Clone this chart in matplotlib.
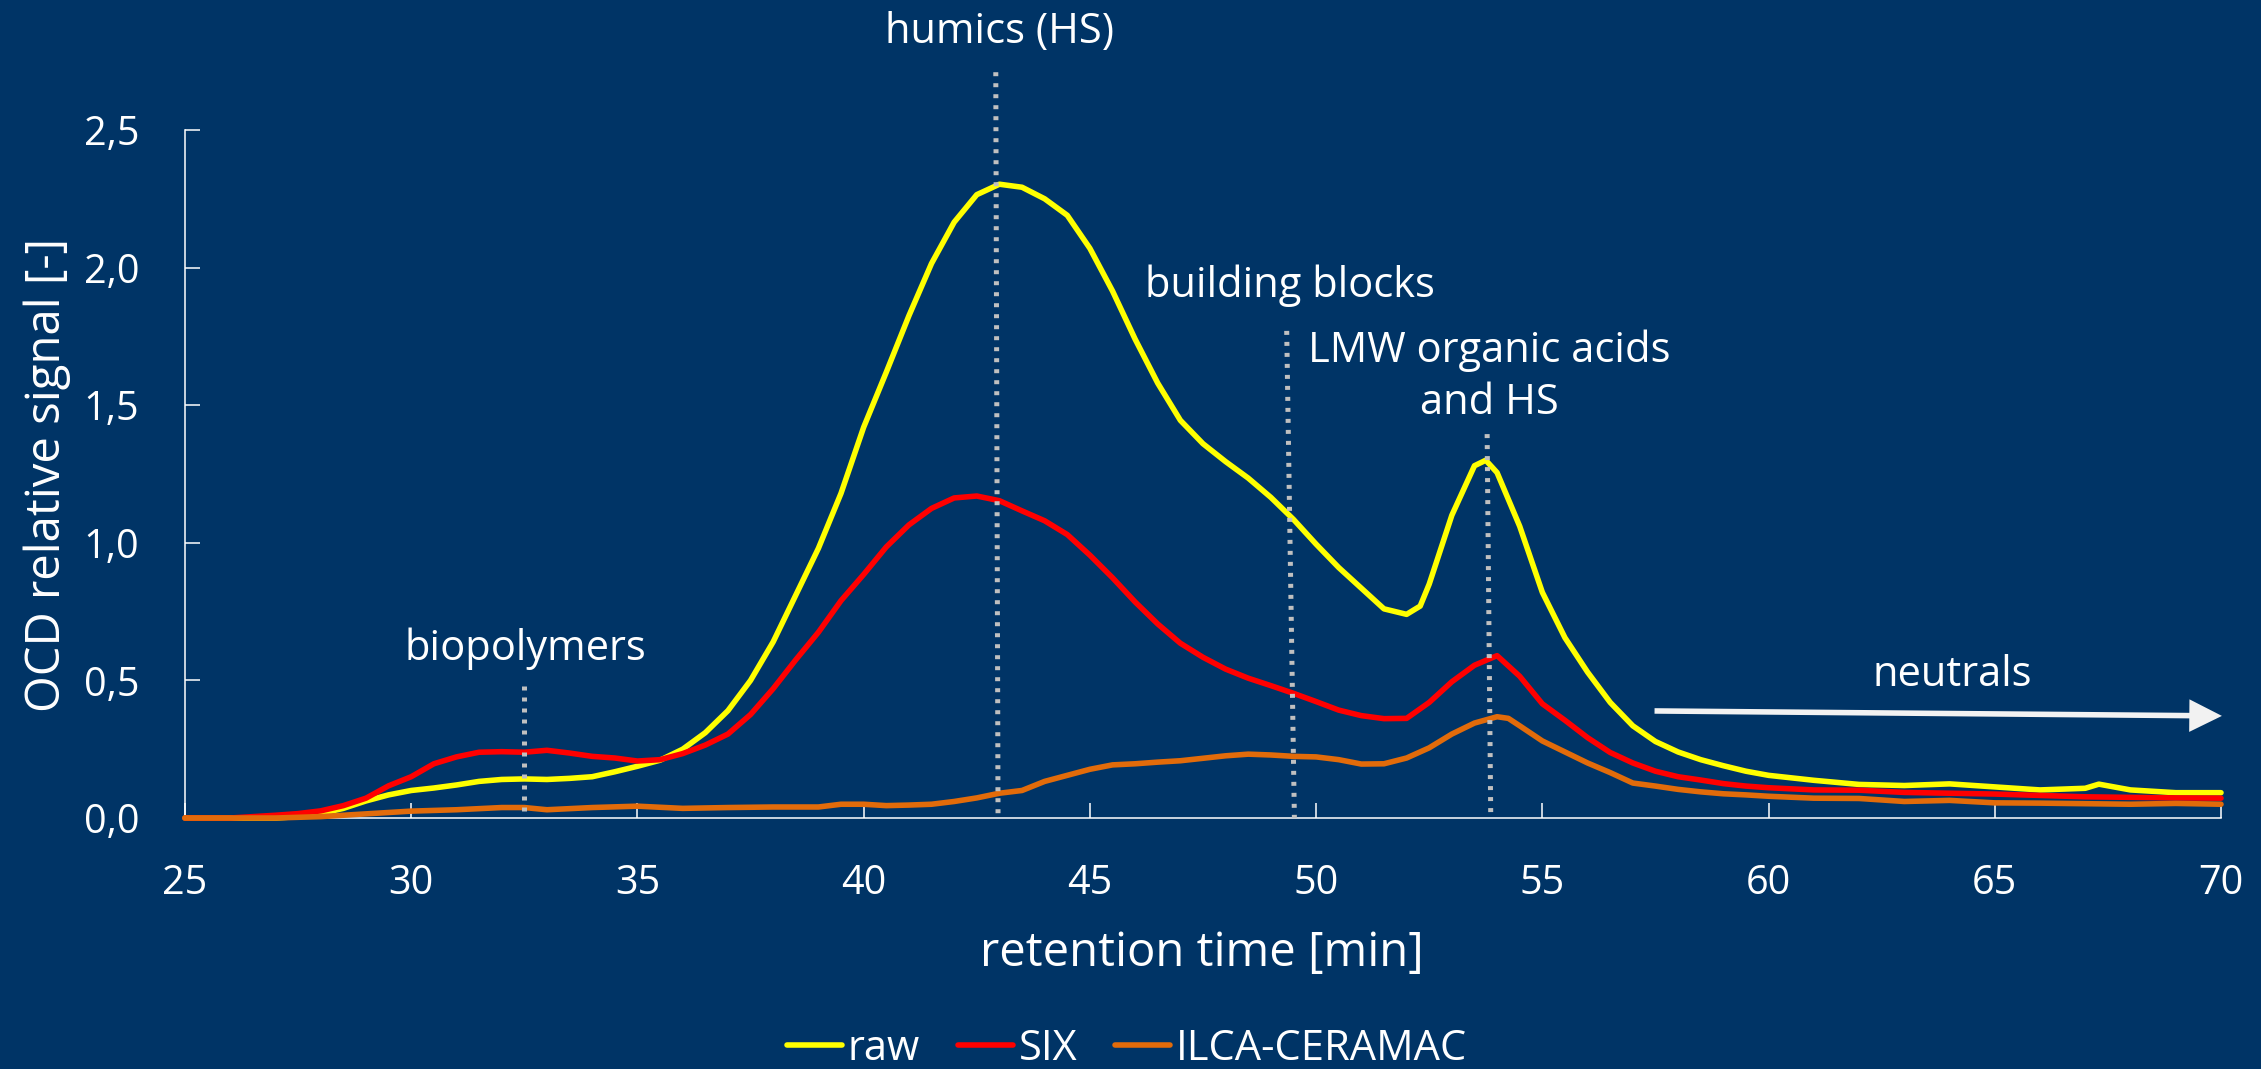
import matplotlib
matplotlib.use("Agg")
import matplotlib.pyplot as plt
from matplotlib.ticker import FuncFormatter, MultipleLocator
from matplotlib.patches import FancyArrowPatch, ArrowStyle

# retention time [min] and OCD relative signals
time_raw = [25, 26, 27, 27.5, 28, 28.5, 29, 29.5, 30, 30.5, 31, 31.5, 32, 32.5, 33, 33.5,
            34, 34.5, 35, 35.5, 36, 36.5, 37, 37.5, 38, 38.5, 39, 39.5, 40, 40.5, 41,
            41.5, 42, 42.5, 43, 43.5, 44, 44.5, 45, 45.5, 46, 46.5, 47, 47.5, 48, 48.5,
            49, 49.5, 50, 50.5, 51, 51.5, 52, 52.3, 52.5, 53, 53.5, 53.75, 54, 54.5, 55,
            55.5, 56, 56.5, 57, 57.5, 58, 58.5, 59, 59.5, 60, 61, 62, 63, 64, 65, 66, 67,
            67.3, 68, 69, 70]
signal_raw = [0.0, 0.0, 0.0, 0.005, 0.016, 0.035, 0.062, 0.084, 0.100, 0.109, 0.120, 0.133,
              0.140, 0.142, 0.140, 0.144, 0.150, 0.168, 0.188, 0.210, 0.250, 0.310, 0.390,
              0.500, 0.640, 0.810, 0.980, 1.180, 1.420, 1.620, 1.825, 2.015, 2.165, 2.265,
              2.303, 2.292, 2.250, 2.190, 2.070, 1.915, 1.740, 1.580, 1.445, 1.360, 1.295,
              1.235, 1.165, 1.085, 0.995, 0.910, 0.835, 0.760, 0.740, 0.770, 0.850, 1.100,
              1.280, 1.300, 1.255, 1.060, 0.820, 0.655, 0.530, 0.420, 0.335, 0.278, 0.240,
              0.212, 0.190, 0.170, 0.155, 0.137, 0.122, 0.118, 0.124, 0.113, 0.102, 0.108,
              0.123, 0.102, 0.092, 0.092]

time_six = [25, 26, 26.5, 27, 27.5, 28, 28.5, 29, 29.5, 30, 30.5, 31, 31.5, 32, 32.5, 33,
            33.5, 34, 34.5, 35, 35.5, 36, 36.5, 37, 37.5, 38, 38.5, 39, 39.5, 40, 40.5, 41,
            41.5, 42, 42.5, 43, 43.5, 44, 44.5, 45, 45.5, 46, 46.5, 47, 47.5, 48, 48.5, 49,
            49.5, 50, 50.5, 51, 51.5, 52, 52.5, 53, 53.5, 54, 54.5, 55, 55.5, 56, 56.5, 57,
            57.5, 58, 58.5, 59, 59.5, 60, 61, 62, 63, 64, 65, 66, 67, 68, 69, 70]
signal_six = [0.0, 0.0, 0.005, 0.010, 0.016, 0.026, 0.045, 0.072, 0.117, 0.150, 0.197, 0.222,
              0.239, 0.241, 0.239, 0.246, 0.236, 0.224, 0.218, 0.207, 0.212, 0.234, 0.265,
              0.305, 0.376, 0.470, 0.575, 0.675, 0.790, 0.885, 0.985, 1.065, 1.125, 1.163,
              1.170, 1.153, 1.116, 1.080, 1.030, 0.955, 0.873, 0.785, 0.705, 0.635, 0.584,
              0.541, 0.508, 0.481, 0.453, 0.423, 0.392, 0.372, 0.361, 0.362, 0.420, 0.495,
              0.555, 0.590, 0.515, 0.415, 0.355, 0.292, 0.238, 0.200, 0.170, 0.150, 0.138,
              0.125, 0.116, 0.110, 0.102, 0.101, 0.093, 0.090, 0.087, 0.082, 0.077, 0.075,
              0.073, 0.072]

time_ilca = [25, 27, 28, 28.5, 29, 30, 31, 32, 32.5, 33, 34, 35, 36, 37, 38, 39, 39.5, 40,
             40.5, 41, 41.5, 42, 42.5, 43, 43.5, 44, 44.5, 45, 45.5, 46, 46.5, 47, 47.5, 48,
             48.5, 49, 49.5, 50, 50.5, 51, 51.5, 52, 52.5, 53, 53.5, 54, 54.25, 54.5, 55,
             55.5, 56, 56.5, 57, 57.5, 58, 58.5, 59, 59.5, 60, 61, 62, 63, 64, 65, 66, 67,
             68, 69, 70]
signal_ilca = [0.0, 0.0, 0.005, 0.010, 0.015, 0.025, 0.030, 0.038, 0.038, 0.030, 0.038,
               0.043, 0.035, 0.038, 0.040, 0.040, 0.050, 0.050, 0.045, 0.047, 0.050, 0.060,
               0.073, 0.090, 0.100, 0.133, 0.155, 0.177, 0.193, 0.197, 0.203, 0.208, 0.217,
               0.226, 0.232, 0.229, 0.224, 0.222, 0.212, 0.196, 0.197, 0.218, 0.255, 0.305,
               0.345, 0.368, 0.362, 0.335, 0.280, 0.240, 0.200, 0.165, 0.127, 0.116, 0.104,
               0.095, 0.088, 0.084, 0.079, 0.072, 0.071, 0.060, 0.064, 0.055, 0.054, 0.052,
               0.050, 0.053, 0.050]

series_names = ["raw", "SIX", "ILCA-CERAMAC"]
series_colors = ["#FFFF00", "#FF0000", "#E26B0A"]

# fraction boundary markers: top (x, y) and bottom (x, y) of each dotted line
fraction_lines = [
    ((32.50, 0.48), (32.50, 0.0)),
    ((42.92, 2.71), (42.97, 0.0)),
    ((49.35, 1.77), (49.52, 0.0)),
    ((53.78, 1.395), (53.86, 0.0)),
]
fraction_labels = [
    ("biopolymers", 32.52, 0.574),
    ("humics (HS)", 43.0, 2.816),
    ("building blocks", 49.42, 1.893),
    ("LMW organic acids", 53.82, 1.657),
    ("and HS", 53.82, 1.468),
    ("neutrals", 64.06, 0.480),
]
neutrals_arrow = ((57.48, 0.389), (70.02, 0.371))

x_ticks = [25, 30, 35, 40, 45, 50, 55, 60, 65, 70]

BG = "#003466"
FG = "#FFFFFF"
FS = 30
FS_TICK = 28.5
FS_AXIS = 34

plt.rcParams["font.family"] = ["Open Sans", "DejaVu Sans"]

fig = plt.figure(figsize=(22.61, 10.69), dpi=100, facecolor=BG)
ax = fig.add_axes([185 / 2261, 1 - 818 / 1069, 2036 / 2261, 688 / 1069])
ax.set_facecolor(BG)

for t, s, name, c in zip([time_raw, time_six, time_ilca],
                         [signal_raw, signal_six, signal_ilca],
                         series_names, series_colors):
    ax.plot(t, s, color=c, lw=4.0, label=name, clip_on=False,
            solid_capstyle="round", solid_joinstyle="round", zorder=3)

for (x0, y0), (x1, y1) in fraction_lines:
    ax.plot([x0, x1], [y0, y1], color="#C0C0C0", lw=3.6,
            linestyle=(0, (0.8, 1.4)), dash_capstyle="butt", clip_on=False, zorder=4)

for text, x, y in fraction_labels:
    ax.text(x, y, text, color=FG, fontsize=FS, ha="center", va="baseline")

arrow = FancyArrowPatch(neutrals_arrow[0], neutrals_arrow[1],
                        arrowstyle=ArrowStyle("-|>", head_length=17, head_width=8.5),
                        mutation_scale=1, lw=4.0, color="#F2F2F2",
                        shrinkA=0, shrinkB=0, clip_on=False, zorder=5,
                        joinstyle="miter", capstyle="butt")
ax.add_patch(arrow)

ax.set_xlim(25, 70)
ax.set_ylim(0, 2.5)
ax.set_xticks(x_ticks)
ax.yaxis.set_major_locator(MultipleLocator(0.5))
ax.yaxis.set_major_formatter(FuncFormatter(lambda v, p: f"{v:.1f}".replace(".", ",")))

for side in ["top", "right"]:
    ax.spines[side].set_visible(False)
for side in ["left", "bottom"]:
    ax.spines[side].set_color(FG)
    ax.spines[side].set_linewidth(1.1)

ax.tick_params(axis="both", direction="in", length=10.8, width=1.1, color=FG,
               labelcolor=FG, labelsize=FS_TICK, pad=33)

fig.text(60 / 2261, 1 - 474.5 / 1069, "OCD relative signal [-]", color=FG, fontsize=FS_AXIS,
         rotation=90, rotation_mode="anchor", ha="center", va="baseline")
fig.text(1202 / 2261, 1 - 966 / 1069, "retention time [min]", color=FG, fontsize=FS_AXIS,
         ha="center", va="baseline")

handles, labels = ax.get_legend_handles_labels()
leg = fig.legend(handles, labels, loc="center", bbox_to_anchor=(1127 / 2261, 1 - 1049 / 1069),
                 ncol=3, frameon=False, fontsize=FS, handlelength=1.32,
                 handletextpad=0.15, columnspacing=0.9, borderpad=0, borderaxespad=0)
for txt in leg.get_texts():
    txt.set_color(FG)

fig.savefig("out.png", dpi=100, facecolor=BG)
